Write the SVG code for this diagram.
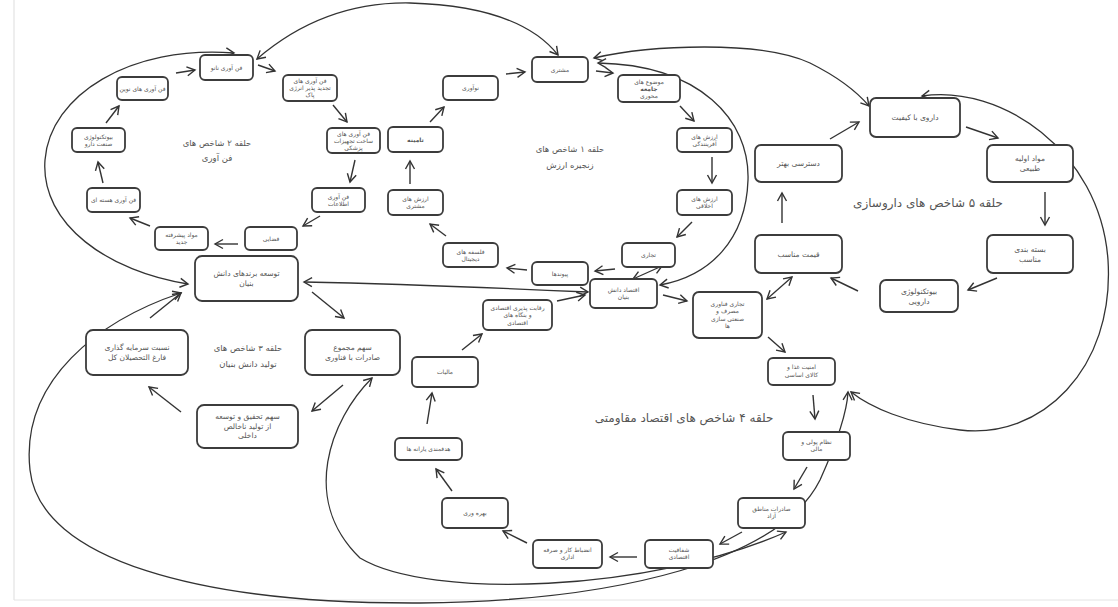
<svg xmlns="http://www.w3.org/2000/svg" width="1118" height="607" viewBox="0 0 1118 607">
<style>
.b{fill:#fff;stroke:#3c3c3c;stroke-width:1.8}
.t{font-family:"DejaVu Sans",sans-serif;font-size:6px;fill:#555;text-anchor:middle}
.t8{font-family:"DejaVu Sans",sans-serif;font-size:7.5px;fill:#555;text-anchor:middle}
.lb{font-family:"DejaVu Sans",sans-serif;font-size:8.5px;fill:#555;text-anchor:middle}
.lg{font-family:"DejaVu Sans",sans-serif;font-size:12px;fill:#555;text-anchor:middle}
.c{fill:none;stroke:#333;stroke-width:1.2}
.s{fill:none;stroke:#333;stroke-width:1.4;marker-end:url(#ah)}
.d{fill:none;stroke:#333;stroke-width:1.3;marker-start:url(#ah);marker-end:url(#ah)}
</style>
<defs>
<marker id="ah" markerUnits="userSpaceOnUse" markerWidth="12" markerHeight="12" refX="9" refY="6" orient="auto-start-reverse">
<path d="M1,1.5 L9,6 L1,10.5" fill="none" stroke="#333" stroke-width="1.4"/>
</marker>
</defs>
<rect width="1118" height="607" fill="#fff"/>
<line x1="14" y1="0" x2="14" y2="600" stroke="#ddd" stroke-width="1"/>
<line x1="14" y1="600" x2="1118" y2="600" stroke="#e4e4e4" stroke-width="1"/>

<g id="connectors">
<!-- loop 2 -->
<path class="s" d="M176,73 L195,70"/>
<path class="s" d="M258,65 L275,71"/>
<path class="s" d="M333,105 L347,122"/>
<path class="s" d="M355,160 L350,182"/>
<path class="s" d="M320,216 L303,226"/>
<path class="s" d="M238,244 L215,244"/>
<path class="s" d="M150,226 L130,218"/>
<path class="s" d="M103,183 L98,162"/>
<path class="s" d="M106,123 L119,106"/>
<!-- loop 1 -->
<path class="s" d="M506,74 L525,72"/>
<path class="s" d="M596,71 L613,73"/>
<path class="s" d="M680,106 L694,121"/>
<path class="s" d="M712,157 L712,183"/>
<path class="s" d="M692,222 L677,237"/>
<path class="s" d="M615,269 L595,271"/>
<path class="s" d="M527,270 L507,268"/>
<path class="s" d="M446,236 L430,224"/>
<path class="s" d="M410,184 L410,161"/>
<path class="s" d="M430,122 L444,107"/>
<path class="d" d="M633,279 L662,266"/>
<!-- loop 5 -->
<path class="s" d="M830,139 L859,122"/>
<path class="s" d="M966,127 L998,138"/>
<path class="s" d="M1045,192 L1045,225"/>
<path class="s" d="M997,278 L968,290"/>
<path class="s" d="M858,291 L831,278"/>
<path class="s" d="M782,223 L782,193"/>
<path class="d" d="M792,277 L767,299"/>
<!-- loop 3 -->
<path class="s" d="M312,292 L344,318"/>
<path class="s" d="M343,385 L312,411"/>
<path class="s" d="M181,412 L149,387"/>
<path class="s" d="M150,318 L181,293"/>
<!-- loop 4 -->
<path class="s" d="M557,301 L585,295"/>
<path class="s" d="M663,295 L687,301"/>
<path class="s" d="M768,337 L785,352"/>
<path class="s" d="M813,395 L815,419"/>
<path class="s" d="M807,467 L794,489"/>
<path class="s" d="M742,532 L720,544"/>
<path class="s" d="M637,557 L610,557"/>
<path class="s" d="M527,543 L503,531"/>
<path class="s" d="M452,491 L436,469"/>
<path class="s" d="M427,424 L432,393"/>
<path class="s" d="M462,350 L482,334"/>
<!-- long connectors -->
<path class="d" d="M304,282 C400,284 500,288 588,292"/>
<path class="d" d="M188,284 C110,272 40,225 45,160 C50,95 130,45 234,53"/>
<path class="d" d="M257,59 C300,22 350,2 410,3 C480,5 532,22 558,55"/>
<path class="d" d="M594,58 C650,45 760,40 810,63 C840,78 858,93 869,106"/>
<path class="d" d="M598,63 C700,65 750,120 748,180 C746,240 710,276 660,285"/>
<path class="d" d="M922,96 C1000,84 1100,150 1108,260 C1115,370 1040,440 960,430 C905,423 870,407 851,392"/>
<path class="d" d="M181,293 C100,320 20,380 30,470 C40,560 200,604 420,603 C620,601 780,560 820,480 C838,440 847,412 848,392"/>
<path class="d" d="M372,378 C330,420 300,500 360,558 C430,600 650,592 786,532"/>
</g>

<g id="n2a"><rect class="b" x="200" y="55" width="53" height="25" rx="5"/><text class="t" x="226.5" y="69.6">فن آوری نانو</text></g>
<g id="n2b"><rect class="b" x="283" y="75" width="54" height="26" rx="5"/><text class="t" x="310" y="83.1"><tspan x="310">فن آوری های</tspan><tspan x="310" dy="7">تجدید پذیر انرژی</tspan><tspan x="310" dy="7">پاک</tspan></text></g>
<g id="n2c"><rect class="b" x="327" y="128" width="53" height="25" rx="5"/><text class="t" x="353.5" y="135.6"><tspan x="353.5">فن آوری های</tspan><tspan x="353.5" dy="7">ساخت تجهیزات</tspan><tspan x="353.5" dy="7">پزشکی</tspan></text></g>
<g id="n2d"><rect class="b" x="312" y="188" width="53" height="24" rx="5"/><text class="t" x="338.5" y="198.6"><tspan x="338.5">فن آوری</tspan><tspan x="338.5" dy="7">اطلاعات</tspan></text></g>
<g id="n2e"><rect class="b" x="245" y="227" width="52" height="23" rx="5"/><text class="t" x="271" y="240.6">فضایی</text></g>
<g id="n2f"><rect class="b" x="155" y="227" width="53" height="23" rx="5"/><text class="t" x="181.5" y="237.1"><tspan x="181.5">مواد پیشرفته</tspan><tspan x="181.5" dy="7">جدید</tspan></text></g>
<g id="n2g"><rect class="b" x="87" y="188" width="53" height="24" rx="5"/><text class="t" x="113.5" y="202.1">فن آوری هسته ای</text></g>
<g id="n2h"><rect class="b" x="72" y="128" width="53" height="24" rx="5"/><text class="t" x="98.5" y="138.6"><tspan x="98.5">بیوتکنولوژی</tspan><tspan x="98.5" dy="7">صنعت دارو</tspan></text></g>
<g id="n2i"><rect class="b" x="117" y="77" width="51" height="23" rx="5"/><text class="t" x="142.5" y="90.6">فن آوری های نوین</text></g>
<g id="lbl2"><text class="lb" x="217" y="146">حلقه ۲ شاخص های</text><text class="lb" x="217" y="161">فن آوری</text></g>

<g id="n1a"><rect class="b" x="532" y="57" width="56" height="25" rx="5"/><text class="t" x="560" y="71.6">مشتری</text></g>
<g id="n1b"><rect class="b" x="618" y="75" width="62" height="27" rx="5"/><text class="t" x="649" y="83.6"><tspan x="649">موضوع های</tspan><tspan x="649" dy="7" font-weight="bold">جامعه</tspan><tspan x="649" dy="7">محوری</tspan></text></g>
<g id="n1c"><rect class="b" x="677" y="128" width="55" height="24" rx="5"/><text class="t" x="704.5" y="138.6"><tspan x="704.5">ارزش های</tspan><tspan x="704.5" dy="7">آفرینندگی</tspan></text></g>
<g id="n1d"><rect class="b" x="677" y="190" width="55" height="25" rx="5"/><text class="t" x="704.5" y="201.1"><tspan x="704.5">ارزش های</tspan><tspan x="704.5" dy="7">اخلاقی</tspan></text></g>
<g id="n1e"><rect class="b" x="622" y="243" width="53" height="24" rx="5"/><text class="t" x="648.5" y="257.1">تجاری</text></g>
<g id="n1f"><rect class="b" x="532" y="262" width="56" height="23" rx="5"/><text class="t" x="560" y="275.6">پیوندها</text></g>
<g id="n1g"><rect class="b" x="443" y="243" width="55" height="24" rx="5"/><text class="t" x="470.5" y="253.6"><tspan x="470.5">فلسفه های</tspan><tspan x="470.5" dy="7">دیجیتال</tspan></text></g>
<g id="n1h"><rect class="b" x="388" y="190" width="55" height="25" rx="5"/><text class="t" x="415.5" y="201.1"><tspan x="415.5">ارزش های</tspan><tspan x="415.5" dy="7">مشتری</tspan></text></g>
<g id="n1i"><rect class="b" x="388" y="127" width="55" height="25" rx="5"/><text class="t" x="415.5" y="141.6" font-weight="bold">تامینه</text></g>
<g id="n1j"><rect class="b" x="443" y="76" width="55" height="24" rx="5"/><text class="t" x="470.5" y="90.1">نوآوری</text></g>
<g id="lbl1"><text class="lb" x="570" y="152">حلقه ۱ شاخص های</text><text class="lb" x="570" y="168">زنجیره ارزش</text></g>
<g id="econ"><rect class="b" x="590" y="279" width="67" height="29" rx="5"/><text class="t" x="623.5" y="291.6"><tspan x="623.5">اقتصاد دانش</tspan><tspan x="623.5" dy="7">بنیان</tspan></text></g>

<g id="n5a"><rect class="b" x="870" y="98" width="90" height="39" rx="6"/><text class="t8" x="915" y="120.1">داروی با کیفیت</text></g>
<g id="n5b"><rect class="b" x="987" y="145" width="86" height="37" rx="6"/><text class="t8" x="1030" y="161"><tspan x="1030">مواد اولیه</tspan><tspan x="1030" dy="10">طبیعی</tspan></text></g>
<g id="n5c"><rect class="b" x="987" y="235" width="86" height="38" rx="6"/><text class="t8" x="1030" y="251.5"><tspan x="1030">بسته بندی</tspan><tspan x="1030" dy="10">مناسب</tspan></text></g>
<g id="n5d"><rect class="b" x="880" y="280" width="78" height="32" rx="6"/><text class="t8" x="919" y="293.6"><tspan x="919">بیوتکنولوژی</tspan><tspan x="919" dy="10">دارویی</tspan></text></g>
<g id="n5e"><rect class="b" x="755" y="235" width="87" height="38" rx="6"/><text class="t8" x="798.5" y="256.6">قیمت مناسب</text></g>
<g id="n5f"><rect class="b" x="755" y="145" width="87" height="37" rx="6"/><text class="t8" x="798.5" y="166.1">دسترسی بهتر</text></g>
<g id="lbl5"><text class="lg" x="928" y="207">حلقه ۵ شاخص های داروسازی</text></g>

<g id="n3a"><rect class="b" x="195" y="256" width="103" height="45" rx="7"/><text class="t8" x="246.5" y="276"><tspan x="246.5">توسعه برندهای دانش</tspan><tspan x="246.5" dy="10">بنیان</tspan></text></g>
<g id="n3b"><rect class="b" x="305" y="330" width="95" height="45" rx="7"/><text class="t8" x="352.5" y="350"><tspan x="352.5">سهم مجموع</tspan><tspan x="352.5" dy="10">صادرات با فناوری</tspan></text></g>
<g id="n3c"><rect class="b" x="197" y="405" width="101" height="43" rx="7"/><text class="t8" x="247.5" y="419"><tspan x="247.5">سهم تحقیق و توسعه</tspan><tspan x="247.5" dy="9.5">از تولید ناخالص</tspan><tspan x="247.5" dy="9.5">داخلی</tspan></text></g>
<g id="n3d"><rect class="b" x="86" y="330" width="102" height="45" rx="7"/><text class="t8" x="137" y="350"><tspan x="137">نسبت سرمایه گذاری</tspan><tspan x="137" dy="10">فارغ التحصیلان کل</tspan></text></g>
<g id="lbl3"><text class="lb" x="248" y="351">حلقه ۳ شاخص های</text><text class="lb" x="248" y="367">تولید دانش بنیان</text></g>

<g id="n4a"><rect class="b" x="693" y="292" width="69" height="46" rx="6"/><text class="t" x="727.5" y="305.6"><tspan x="727.5">تجاری فناوری</tspan><tspan x="727.5" dy="7.5">مصرف و</tspan><tspan x="727.5" dy="7.5">صنعتی سازی</tspan><tspan x="727.5" dy="7.5">ها</tspan></text></g>
<g id="n4b"><rect class="b" x="768" y="358" width="67" height="27" rx="5"/><text class="t" x="801.5" y="369.1"><tspan x="801.5">امنیت غذا و</tspan><tspan x="801.5" dy="7.5">کالای اساسی</tspan></text></g>
<g id="n4c"><rect class="b" x="783" y="432" width="67" height="28" rx="5"/><text class="t" x="816.5" y="443.6"><tspan x="816.5">نظام پولی و</tspan><tspan x="816.5" dy="7.5">مالی</tspan></text></g>
<g id="n4d"><rect class="b" x="738" y="498" width="67" height="30" rx="5"/><text class="t" x="771.5" y="510.6"><tspan x="771.5">صادرات مناطق</tspan><tspan x="771.5" dy="7.5">آزاد</tspan></text></g>
<g id="n4e"><rect class="b" x="645" y="540" width="68" height="28" rx="5"/><text class="t" x="679" y="551.6"><tspan x="679">شفافیت</tspan><tspan x="679" dy="7.5">اقتصادی</tspan></text></g>
<g id="n4f"><rect class="b" x="533" y="540" width="69" height="28" rx="5"/><text class="t" x="567.5" y="551.6"><tspan x="567.5">انضباط کار و صرفه</tspan><tspan x="567.5" dy="7.5">اداری</tspan></text></g>
<g id="n4g"><rect class="b" x="442" y="498" width="66" height="30" rx="5"/><text class="t" x="475" y="515.1">بهره وری</text></g>
<g id="n4h"><rect class="b" x="395" y="438" width="67" height="22" rx="5"/><text class="t" x="428.5" y="451.1">هدفمندی یارانه ها</text></g>
<g id="n4i"><rect class="b" x="412" y="357" width="66" height="30" rx="5"/><text class="t" x="445" y="374.1">مالیات</text></g>
<g id="n4j"><rect class="b" x="483" y="300" width="69" height="30" rx="5"/><text class="t" x="517.5" y="309.6"><tspan x="517.5">رقابت پذیری اقتصادی</tspan><tspan x="517.5" dy="7.5">و بنگاه های</tspan><tspan x="517.5" dy="7.5">اقتصادی</tspan></text></g>
<g id="lbl4"><text class="lg" x="684" y="422">حلقه ۴ شاخص های اقتصاد مقاومتی</text></g>
</svg>
